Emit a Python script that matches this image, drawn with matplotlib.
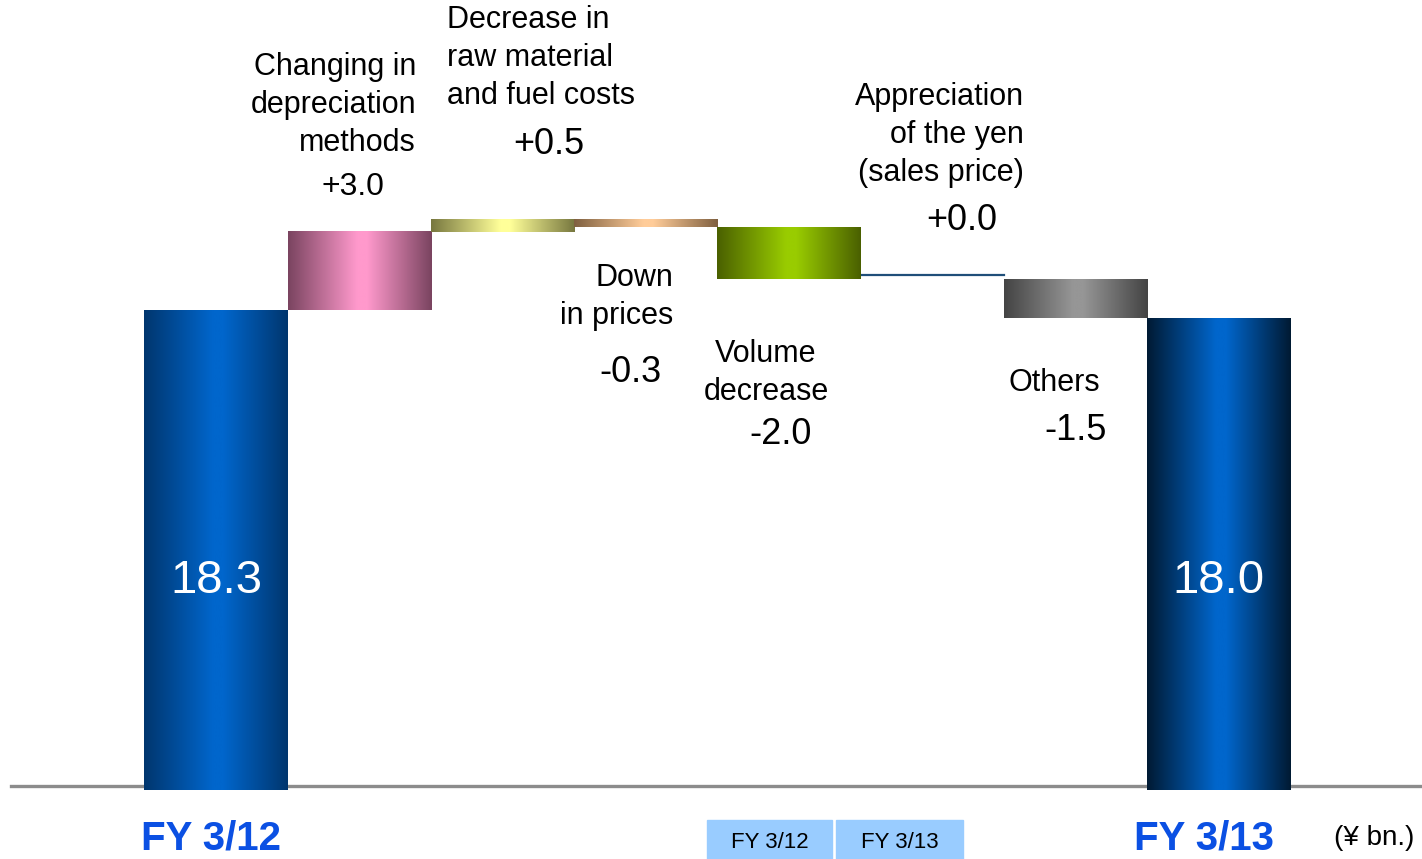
import matplotlib.pyplot as plt
import numpy as np
from matplotlib.colors import LinearSegmentedColormap
from matplotlib.patches import Rectangle

plt.rcParams['font.family'] = ['Liberation Sans', 'DejaVu Sans']

# --- data ---
steps = ["FY 3/12", "Changing in\ndepreciation\nmethods", "Decrease in\nraw material\nand fuel costs",
         "Down\nin prices", "Volume\ndecrease", "Appreciation\nof the yen\n(sales price)", "Others", "FY 3/13"]
values = [18.3, 3.0, 0.5, -0.3, -2.0, 0.0, -1.5, 18.0]
value_labels = ["18.3", "+3.0", "+0.5", "-0.3", "-2.0", "+0.0", "-1.5", "18.0"]
# edge / centre colours of the horizontal gradients
bar_edges = ["#00366e", "#7a4460", "#77773f", "#7f6040", "#4a6000", None, "#444444", "#001a33"]
bar_mids = ["#0066cc", "#ff99cc", "#ffff99", "#ffcc99", "#99cc00", None, "#969696", "#0066cc"]

W, H = 1422, 859
fig = plt.figure(figsize=(W / 100, H / 100), dpi=100)
ax = fig.add_axes([0, 0, 1, 1])

# pixel mapping: bar i centred at 216 + 143.2*i, value 0 at y=786, 26 px per unit
step_px, x0_px = 143.2, 216
unit_px, base_px = 26.0, 786
xlim = ((0 - x0_px) / step_px, (W - x0_px) / step_px)
ylim = ((base_px - H) / unit_px, base_px / unit_px)


def px(x, y):
    return x / W, 1 - y / H


# axis line
ax.plot([(11 - x0_px) / step_px, xlim[1]], [0, 0], color="#8c8c8c", lw=2.4, zorder=1)

grad = np.linspace(0, 1, 256).reshape(1, -1)
running = 0.0
for i, v in enumerate(values):
    if i == 0 or i == len(values) - 1:
        bottom, top = -0.15, v
        running = v
    else:
        bottom, top = sorted([running, running + v])
        running += v
    if v == 0:
        # flat connector for a zero step
        ax.plot([i - 0.5, i + 0.5], [running + 0.15, running + 0.15], color="#1f4e79", lw=1.6, zorder=2)
        continue
    cmap = LinearSegmentedColormap.from_list(
        f"g{i}", [(0, bar_edges[i]), (0.48, bar_mids[i]), (0.55, bar_mids[i]), (1, bar_edges[i])])
    ax.imshow(grad, extent=[i - 0.5, i + 0.5, bottom, top], aspect="auto", cmap=cmap,
              interpolation="bilinear", zorder=3)

ax.set_xlim(*xlim)
ax.set_ylim(*ylim)
ax.axis("off")

# totals inside the end bars
ax.text(0, 7.9, value_labels[0], color="white", fontsize=34, ha="center", va="center", zorder=5)
ax.text(7, 7.9, value_labels[7], color="white", fontsize=34, ha="center", va="center", zorder=5)

fs = 22
vfs = 26
ls = 1.33
# step descriptions
fig.text(*px(416, 105), steps[1], fontsize=fs, ha="right", va="center", linespacing=ls)
fig.text(*px(353, 187), value_labels[1], fontsize=23, ha="center", va="center")
fig.text(*px(447, 58), steps[2], fontsize=fs, ha="left", va="center", linespacing=ls)
fig.text(*px(549, 145), value_labels[2], fontsize=vfs, ha="center", va="center")
fig.text(*px(673, 297), steps[3], fontsize=fs, ha="right", va="center", linespacing=ls)
fig.text(*px(630, 372), value_labels[3], fontsize=vfs, ha="center", va="center")
fig.text(*px(766, 373), steps[4], fontsize=fs, ha="center", va="center", linespacing=ls)
fig.text(*px(781, 435), value_labels[4], fontsize=vfs, ha="center", va="center")
fig.text(*px(1024, 135), steps[5], fontsize=fs, ha="right", va="center", linespacing=ls)
fig.text(*px(962, 221), value_labels[5], fontsize=vfs, ha="center", va="center")
fig.text(*px(1054, 383), steps[6], fontsize=fs, ha="center", va="center")
fig.text(*px(1076, 430), value_labels[6], fontsize=vfs, ha="center", va="center")

# bottom labels
fig.text(*px(211, 838), steps[0], fontsize=29, fontweight="bold", color="#0b50e3", ha="center", va="center")
fig.text(*px(1204, 838), steps[7], fontsize=29, fontweight="bold", color="#0b50e3", ha="center", va="center")
fig.text(*px(1374, 838), "(¥ bn.)", fontsize=20, ha="center", va="center")

# small legend boxes
for (bx0, bx1), lab in zip([(707, 832), (836, 963)], ["FY 3/12", "FY 3/13"]):
    x, y = px(bx0, 859)
    w = (bx1 - bx0) / W
    h = (859 - 820) / H
    fig.patches.append(Rectangle((x, y), w, h, transform=fig.transFigure, color="#99ccff", zorder=0))
    fig.text(x + w / 2, px(0, 843)[1], lab, fontsize=16, ha="center", va="center")

fig.savefig("out.png", dpi=100)
